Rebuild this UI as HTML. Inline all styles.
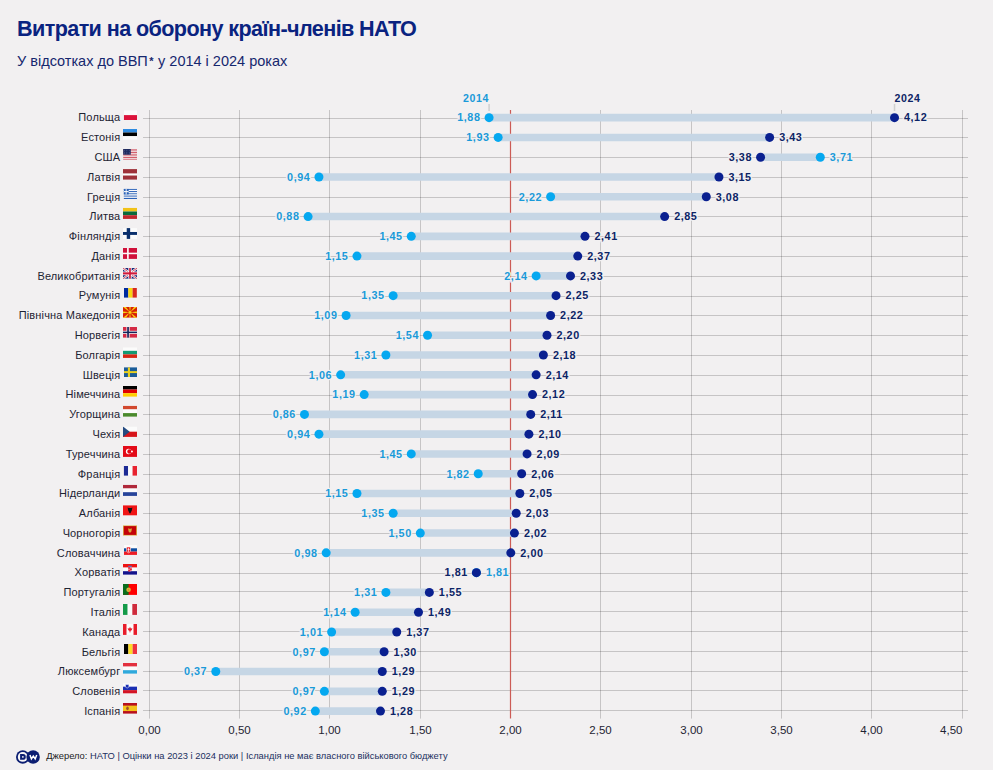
<!DOCTYPE html>
<html><head><meta charset="utf-8"><style>
html,body{margin:0;padding:0;}
body{width:993px;height:770px;overflow:hidden;background:#f2f0f1;position:relative;font-family:"Liberation Sans",sans-serif;}
.t{position:absolute;white-space:nowrap;}
#title{left:17px;top:15px;font-size:21.6px;letter-spacing:-0.6px;font-weight:700;color:#0a2380;line-height:28px;}
#sub{left:17px;top:51px;font-size:14.5px;color:#16276e;line-height:20px;}
#sub b{font-size:11px;position:relative;top:-1.5px;margin:0 0.5px 0 1.5px;}
svg{position:absolute;left:0;top:0;}
svg text{font-family:"Liberation Sans",sans-serif;}
</style></head><body>
<div class="t" id="title">Витрати на оборону країн-членів НАТО</div>
<div class="t" id="sub">У відсотках до ВВП<b>*</b> у 2014 і 2024 роках</div>
<svg width="993" height="770" viewBox="0 0 993 770">

<g stroke="rgba(0,0,0,0.18)" stroke-width="1"><line x1="143" y1="118.50" x2="968" y2="118.50"/><line x1="143" y1="137.50" x2="968" y2="137.50"/><line x1="143" y1="157.50" x2="968" y2="157.50"/><line x1="143" y1="177.50" x2="968" y2="177.50"/><line x1="143" y1="197.50" x2="968" y2="197.50"/><line x1="143" y1="216.50" x2="968" y2="216.50"/><line x1="143" y1="236.50" x2="968" y2="236.50"/><line x1="143" y1="256.50" x2="968" y2="256.50"/><line x1="143" y1="276.50" x2="968" y2="276.50"/><line x1="143" y1="296.50" x2="968" y2="296.50"/><line x1="143" y1="315.50" x2="968" y2="315.50"/><line x1="143" y1="335.50" x2="968" y2="335.50"/><line x1="143" y1="355.50" x2="968" y2="355.50"/><line x1="143" y1="375.50" x2="968" y2="375.50"/><line x1="143" y1="395.50" x2="968" y2="395.50"/><line x1="143" y1="414.50" x2="968" y2="414.50"/><line x1="143" y1="434.50" x2="968" y2="434.50"/><line x1="143" y1="454.50" x2="968" y2="454.50"/><line x1="143" y1="474.50" x2="968" y2="474.50"/><line x1="143" y1="493.50" x2="968" y2="493.50"/><line x1="143" y1="513.50" x2="968" y2="513.50"/><line x1="143" y1="533.50" x2="968" y2="533.50"/><line x1="143" y1="553.50" x2="968" y2="553.50"/><line x1="143" y1="573.50" x2="968" y2="573.50"/><line x1="143" y1="591.50" x2="968" y2="591.50"/><line x1="143" y1="611.50" x2="968" y2="611.50"/><line x1="143" y1="631.50" x2="968" y2="631.50"/><line x1="143" y1="651.50" x2="968" y2="651.50"/><line x1="143" y1="671.50" x2="968" y2="671.50"/><line x1="143" y1="690.50" x2="968" y2="690.50"/><line x1="143" y1="710.50" x2="968" y2="710.50"/></g>
<g stroke="rgba(0,0,0,0.18)" stroke-width="1"><line x1="149.50" y1="110" x2="149.50" y2="718.6"/><line x1="239.50" y1="110" x2="239.50" y2="718.6"/><line x1="329.50" y1="110" x2="329.50" y2="718.6"/><line x1="420.50" y1="110" x2="420.50" y2="718.6"/><line x1="600.50" y1="110" x2="600.50" y2="718.6"/><line x1="691.50" y1="110" x2="691.50" y2="718.6"/><line x1="781.50" y1="110" x2="781.50" y2="718.6"/><line x1="871.50" y1="110" x2="871.50" y2="718.6"/><line x1="962.50" y1="110" x2="962.50" y2="718.6"/></g>
<line x1="510.50" y1="110" x2="510.50" y2="718.6" stroke="#cc5b55" stroke-width="1.2"/>
<g font-size="11.5" fill="#1e2433"><text x="149.50" y="734" text-anchor="middle">0,00</text><text x="239.50" y="734" text-anchor="middle">0,50</text><text x="329.50" y="734" text-anchor="middle">1,00</text><text x="420.50" y="734" text-anchor="middle">1,50</text><text x="510.50" y="734" text-anchor="middle">2,00</text><text x="600.50" y="734" text-anchor="middle">2,50</text><text x="691.50" y="734" text-anchor="middle">3,00</text><text x="781.50" y="734" text-anchor="middle">3,50</text><text x="871.50" y="734" text-anchor="middle">4,00</text><text x="962.50" y="734" text-anchor="end">4,50</text></g>
<g font-size="11" letter-spacing="0.15" fill="#1e2433"><text x="120.3" y="121.45" text-anchor="end">Польща</text><text x="120.3" y="141.23" text-anchor="end">Естонія</text><text x="120.3" y="161.01" text-anchor="end">США</text><text x="120.3" y="180.80" text-anchor="end">Латвія</text><text x="120.3" y="200.58" text-anchor="end">Греція</text><text x="120.3" y="220.36" text-anchor="end">Литва</text><text x="120.3" y="240.14" text-anchor="end">Фінляндія</text><text x="120.3" y="259.92" text-anchor="end">Данія</text><text x="120.3" y="279.71" text-anchor="end">Великобританія</text><text x="120.3" y="299.49" text-anchor="end">Румунія</text><text x="120.3" y="319.27" text-anchor="end">Північна Македонія</text><text x="120.3" y="339.05" text-anchor="end">Норвегія</text><text x="120.3" y="358.83" text-anchor="end">Болгарія</text><text x="120.3" y="378.62" text-anchor="end">Швеція</text><text x="120.3" y="398.40" text-anchor="end">Німеччина</text><text x="120.3" y="418.18" text-anchor="end">Угорщина</text><text x="120.3" y="437.96" text-anchor="end">Чехія</text><text x="120.3" y="457.74" text-anchor="end">Туреччина</text><text x="120.3" y="477.53" text-anchor="end">Франція</text><text x="120.3" y="497.31" text-anchor="end">Нідерланди</text><text x="120.3" y="517.09" text-anchor="end">Албанія</text><text x="120.3" y="536.87" text-anchor="end">Чорногорія</text><text x="120.3" y="556.65" text-anchor="end">Словаччина</text><text x="120.3" y="576.44" text-anchor="end">Хорватія</text><text x="120.3" y="596.22" text-anchor="end">Португалія</text><text x="120.3" y="616.00" text-anchor="end">Італія</text><text x="120.3" y="635.78" text-anchor="end">Канада</text><text x="120.3" y="655.56" text-anchor="end">Бельгія</text><text x="120.3" y="675.35" text-anchor="end">Люксембург</text><text x="120.3" y="695.13" text-anchor="end">Словенія</text><text x="120.3" y="714.91" text-anchor="end">Іспанія</text></g>
<svg x="123.80" y="110.20" width="13.25" height="9.80" overflow="hidden"><g><rect x="0.00" y="0.00" width="13.25" height="4.91" fill="#fbfbfb"/><rect x="0.00" y="4.90" width="13.25" height="4.91" fill="#dc143c"/></g></svg><svg x="123.00" y="128.90" width="14.00" height="10.90" overflow="hidden"><g><rect x="0.00" y="0.00" width="14.00" height="3.64" fill="#2f8be0"/><rect x="0.00" y="3.63" width="14.00" height="3.64" fill="#000000"/><rect x="0.00" y="7.27" width="14.00" height="3.64" fill="#fbfbfb"/></g></svg><svg x="123.10" y="148.90" width="13.90" height="10.80" overflow="hidden"><g><rect x="0.00" y="0.00" width="13.90" height="0.84" fill="#c83848"/><rect x="0.00" y="0.83" width="13.90" height="0.84" fill="#f6e8ea"/><rect x="0.00" y="1.66" width="13.90" height="0.84" fill="#c83848"/><rect x="0.00" y="2.49" width="13.90" height="0.84" fill="#f6e8ea"/><rect x="0.00" y="3.32" width="13.90" height="0.84" fill="#c83848"/><rect x="0.00" y="4.15" width="13.90" height="0.84" fill="#f6e8ea"/><rect x="0.00" y="4.98" width="13.90" height="0.84" fill="#c83848"/><rect x="0.00" y="5.82" width="13.90" height="0.84" fill="#f6e8ea"/><rect x="0.00" y="6.65" width="13.90" height="0.84" fill="#c83848"/><rect x="0.00" y="7.48" width="13.90" height="0.84" fill="#f6e8ea"/><rect x="0.00" y="8.31" width="13.90" height="0.84" fill="#c83848"/><rect x="0.00" y="9.14" width="13.90" height="0.84" fill="#f6e8ea"/><rect x="0.00" y="9.97" width="13.90" height="0.84" fill="#c83848"/><rect x="0.00" y="0.00" width="7.65" height="5.82" fill="#1e2a5e"/><circle cx="1.39" cy="1.30" r="0.35" fill="#8a98c8"/><circle cx="3.75" cy="1.30" r="0.35" fill="#8a98c8"/><circle cx="6.12" cy="1.30" r="0.35" fill="#8a98c8"/><circle cx="1.39" cy="3.24" r="0.35" fill="#8a98c8"/><circle cx="3.75" cy="3.24" r="0.35" fill="#8a98c8"/><circle cx="6.12" cy="3.24" r="0.35" fill="#8a98c8"/><circle cx="1.39" cy="4.97" r="0.35" fill="#8a98c8"/><circle cx="3.75" cy="4.97" r="0.35" fill="#8a98c8"/><circle cx="6.12" cy="4.97" r="0.35" fill="#8a98c8"/></g></svg><svg x="123.00" y="169.10" width="14.00" height="10.70" overflow="hidden"><g><rect x="0.00" y="0.00" width="14.00" height="10.70" fill="#9e3039"/><rect x="0.00" y="4.28" width="14.00" height="2.14" fill="#fbfbfb"/></g></svg><svg x="123.60" y="188.80" width="13.40" height="10.20" overflow="hidden"><g><rect x="0.00" y="0.00" width="13.40" height="1.14" fill="#2a62b8"/><rect x="0.00" y="1.13" width="13.40" height="1.14" fill="#fbfbfb"/><rect x="0.00" y="2.27" width="13.40" height="1.14" fill="#2a62b8"/><rect x="0.00" y="3.40" width="13.40" height="1.14" fill="#fbfbfb"/><rect x="0.00" y="4.53" width="13.40" height="1.14" fill="#2a62b8"/><rect x="0.00" y="5.67" width="13.40" height="1.14" fill="#fbfbfb"/><rect x="0.00" y="6.80" width="13.40" height="1.14" fill="#2a62b8"/><rect x="0.00" y="7.93" width="13.40" height="1.14" fill="#fbfbfb"/><rect x="0.00" y="9.07" width="13.40" height="1.14" fill="#2a62b8"/><rect x="0.00" y="0.00" width="5.09" height="5.67" fill="#2a62b8"/><rect x="2.08" y="0.00" width="0.94" height="5.67" fill="#fbfbfb"/><rect x="0.00" y="2.27" width="5.09" height="1.13" fill="#fbfbfb"/></g></svg><svg x="123.00" y="207.80" width="14.00" height="11.10" overflow="hidden"><g><rect x="0.00" y="0.00" width="14.00" height="3.71" fill="#f2c218"/><rect x="0.00" y="3.70" width="14.00" height="3.71" fill="#0a6a3c"/><rect x="0.00" y="7.40" width="14.00" height="3.71" fill="#c1272d"/></g></svg><svg x="122.90" y="228.10" width="14.20" height="10.80" overflow="hidden"><g><rect x="0.00" y="0.00" width="14.20" height="10.80" fill="#fbfbfb"/><rect x="3.83" y="0.00" width="3.41" height="10.80" fill="#0a2f6c"/><rect x="0.00" y="3.89" width="14.20" height="2.92" fill="#0a2f6c"/></g></svg><svg x="123.00" y="248.00" width="14.00" height="10.90" overflow="hidden"><g><rect x="0.00" y="0.00" width="14.00" height="10.90" fill="#d0103a"/><rect x="4.06" y="0.00" width="1.68" height="10.90" fill="#fbfbfb"/><rect x="0.00" y="4.69" width="14.00" height="1.53" fill="#fbfbfb"/></g></svg><svg x="123.00" y="268.00" width="14.00" height="10.80" overflow="hidden"><g><rect x="0.00" y="0.00" width="14.00" height="10.80" fill="#1a2a78"/><path d="M0,0L14,10.800000000000011M14,0L0,10.800000000000011" stroke="#fbfbfb" stroke-width="2.2"/><path d="M0,0L14,10.800000000000011M14,0L0,10.800000000000011" stroke="#c8102e" stroke-width="0.8"/><rect x="5.32" y="0.00" width="3.36" height="10.80" fill="#fbfbfb"/><rect x="0.00" y="3.56" width="14.00" height="3.67" fill="#fbfbfb"/><rect x="6.16" y="0.00" width="1.68" height="10.80" fill="#d0183a"/><rect x="0.00" y="4.32" width="14.00" height="2.16" fill="#d0183a"/></g></svg><svg x="124.00" y="288.00" width="12.90" height="9.80" overflow="hidden"><g><rect x="0.00" y="0.00" width="4.31" height="9.80" fill="#002b9f"/><rect x="4.30" y="0.00" width="4.31" height="9.80" fill="#f8d510"/><rect x="8.60" y="0.00" width="4.31" height="9.80" fill="#d8281e"/></g></svg><svg x="123.00" y="306.90" width="14.00" height="10.90" overflow="hidden"><g><rect x="0.00" y="0.00" width="14.00" height="10.90" fill="#d81e05"/><path d="M7.00,5.45L20.88,3.64L20.88,7.26Z" fill="#f8d210"/><path d="M7.00,5.45L18.10,13.98L15.53,16.55Z" fill="#f8d210"/><path d="M7.00,5.45L8.81,19.33L5.19,19.33Z" fill="#f8d210"/><path d="M7.00,5.45L-1.53,16.55L-4.10,13.98Z" fill="#f8d210"/><path d="M7.00,5.45L-6.88,7.26L-6.88,3.64Z" fill="#f8d210"/><path d="M7.00,5.45L-4.10,-3.08L-1.53,-5.65Z" fill="#f8d210"/><path d="M7.00,5.45L5.19,-8.43L8.81,-8.43Z" fill="#f8d210"/><path d="M7.00,5.45L15.53,-5.65L18.10,-3.08Z" fill="#f8d210"/><circle cx="7.00" cy="5.45" r="1.85" fill="#f8d210" stroke="#d81e05" stroke-width="0.5"/></g></svg><svg x="123.00" y="326.90" width="14.00" height="10.90" overflow="hidden"><g><rect x="0.00" y="0.00" width="14.00" height="10.90" fill="#d42a45"/><rect x="3.50" y="0.00" width="3.08" height="10.90" fill="#fbfbfb"/><rect x="0.00" y="3.92" width="14.00" height="3.05" fill="#fbfbfb"/><rect x="4.20" y="0.00" width="1.68" height="10.90" fill="#14245a"/><rect x="0.00" y="4.69" width="14.00" height="1.53" fill="#14245a"/></g></svg><svg x="123.00" y="347.30" width="14.00" height="10.60" overflow="hidden"><g><rect x="0.00" y="0.00" width="14.00" height="3.54" fill="#fbfbfb"/><rect x="0.00" y="3.53" width="14.00" height="3.54" fill="#139a72"/><rect x="0.00" y="7.07" width="14.00" height="3.54" fill="#d62612"/></g></svg><svg x="124.00" y="367.20" width="13.00" height="9.80" overflow="hidden"><g><rect x="0.00" y="0.00" width="13.00" height="9.80" fill="#1a5c98"/><rect x="3.90" y="0.00" width="2.08" height="9.80" fill="#e8d020"/><rect x="0.00" y="3.92" width="13.00" height="1.96" fill="#e8d020"/></g></svg><svg x="123.00" y="385.90" width="14.00" height="10.90" overflow="hidden"><g><rect x="0.00" y="0.00" width="14.00" height="3.64" fill="#000000"/><rect x="0.00" y="3.63" width="14.00" height="3.64" fill="#e00000"/><rect x="0.00" y="7.27" width="14.00" height="3.64" fill="#ffce00"/></g></svg><svg x="123.00" y="405.70" width="14.00" height="11.10" overflow="hidden"><g><rect x="0.00" y="0.00" width="14.00" height="3.71" fill="#d2482e"/><rect x="0.00" y="3.70" width="14.00" height="3.71" fill="#fbfbfb"/><rect x="0.00" y="7.40" width="14.00" height="3.71" fill="#4a8a2c"/></g></svg><svg x="123.00" y="426.50" width="14.00" height="10.40" overflow="hidden"><g><rect x="0.00" y="0.00" width="14.00" height="5.20" fill="#fbfbfb"/><rect x="0.00" y="5.20" width="14.00" height="5.20" fill="#d7141a"/><path d="M0,0L6.72,5.20L0,10.399999999999977Z" fill="#254a80"/></g></svg><svg x="123.00" y="446.00" width="14.00" height="10.90" overflow="hidden"><g><rect x="0.00" y="0.00" width="14.00" height="10.90" fill="#e30a17"/><circle cx="5.60" cy="5.45" r="2.72" fill="#fff"/><circle cx="6.44" cy="5.45" r="2.18" fill="#e30a17"/><circle cx="8.96" cy="5.45" r="0.98" fill="#fff"/></g></svg><svg x="123.70" y="466.00" width="13.30" height="9.80" overflow="hidden"><g><rect x="0.00" y="0.00" width="4.44" height="9.80" fill="#1c2a94"/><rect x="4.43" y="0.00" width="4.44" height="9.80" fill="#fbfbfb"/><rect x="8.87" y="0.00" width="4.44" height="9.80" fill="#e8232f"/></g></svg><svg x="123.00" y="484.80" width="14.00" height="11.10" overflow="hidden"><g><rect x="0.00" y="0.00" width="14.00" height="3.71" fill="#b0283a"/><rect x="0.00" y="3.70" width="14.00" height="3.71" fill="#fbfbfb"/><rect x="0.00" y="7.40" width="14.00" height="3.71" fill="#27449a"/></g></svg><svg x="123.00" y="505.20" width="14.00" height="10.40" overflow="hidden"><g><rect x="0.00" y="0.00" width="14.00" height="10.40" fill="#f01414"/><path d="M4.62,2.29Q7.00,3.33 9.38,2.29L8.68,5.72Q7.70,6.45 7.70,8.11L6.30,8.11Q6.30,6.45 5.32,5.72Z" fill="#111"/></g></svg><svg x="123.00" y="525.30" width="14.00" height="10.40" overflow="hidden"><g><rect x="0.00" y="0.00" width="14.00" height="10.40" fill="#d7a93c"/><rect x="0.84" y="0.83" width="12.32" height="8.74" fill="#c40308"/><path d="M5.04,2.91Q7.00,4.16 8.96,2.91L8.40,6.24Q7.00,8.53 5.60,6.24Z" fill="#d7a93c"/></g></svg><svg x="124.00" y="545.00" width="13.00" height="9.90" overflow="hidden"><g><rect x="0.00" y="0.00" width="13.00" height="3.31" fill="#fbfbfb"/><rect x="0.00" y="3.30" width="13.00" height="3.31" fill="#0b4ea2"/><rect x="0.00" y="6.60" width="13.00" height="3.31" fill="#ee1c25"/><path d="M2.60,1.98H6.50V6.14Q4.55,9.40 2.60,6.14Z" fill="#ee1c25" stroke="#fbfbfb" stroke-width="0.6"/><rect x="4.29" y="2.97" width="0.65" height="3.96" fill="#fff"/><rect x="3.51" y="3.96" width="2.21" height="0.69" fill="#fff"/></g></svg><svg x="123.00" y="564.00" width="14.00" height="10.80" overflow="hidden"><g><rect x="0.00" y="0.00" width="14.00" height="3.61" fill="#ee1111"/><rect x="0.00" y="3.60" width="14.00" height="3.61" fill="#fbfbfb"/><rect x="0.00" y="7.20" width="14.00" height="3.61" fill="#13138c"/><rect x="5.18" y="1.73" width="3.64" height="1.30" fill="#5a70c0"/><path d="M5.18,3.02H8.82V6.48Q7.00,8.64 5.18,6.48Z" fill="#f07888"/><rect x="5.18" y="3.24" width="1.82" height="1.40" fill="#e02838"/><rect x="7.00" y="4.64" width="1.82" height="1.40" fill="#e02838"/><rect x="5.18" y="6.05" width="1.82" height="1.40" fill="#e02838"/></g></svg><svg x="123.00" y="584.00" width="14.00" height="10.90" overflow="hidden"><g><rect x="0.00" y="0.00" width="14.00" height="10.90" fill="#ff0000"/><rect x="0.00" y="0.00" width="5.60" height="10.90" fill="#0a6e1c"/><circle cx="5.60" cy="5.67" r="2.29" fill="#d9b43a"/><rect x="5.18" y="5.12" width="0.84" height="1.31" fill="#d87040"/></g></svg><svg x="123.00" y="604.00" width="14.00" height="10.90" overflow="hidden"><g><rect x="0.00" y="0.00" width="4.68" height="10.90" fill="#149a48"/><rect x="4.67" y="0.00" width="4.68" height="10.90" fill="#fbfbfb"/><rect x="9.33" y="0.00" width="4.68" height="10.90" fill="#cf2b3c"/></g></svg><svg x="123.00" y="624.00" width="14.00" height="10.90" overflow="hidden"><g><rect x="0.00" y="0.00" width="14.00" height="10.90" fill="#fbfbfb"/><rect x="0.00" y="0.00" width="3.50" height="10.90" fill="#e81c2a"/><rect x="10.50" y="0.00" width="3.50" height="10.90" fill="#e81c2a"/><path d="M7.00,2.72 L7.84,4.58 L9.38,4.14 L8.68,6.32 L7.56,6.76 L7.28,8.50 L6.72,8.50 L6.44,6.76 L5.32,6.32 L4.62,4.14 L6.16,4.58 Z" fill="#e81c2a"/></g></svg><svg x="124.00" y="644.00" width="13.00" height="10.10" overflow="hidden"><g><rect x="0.00" y="0.00" width="4.34" height="10.10" fill="#000000"/><rect x="4.33" y="0.00" width="4.34" height="10.10" fill="#fdda24"/><rect x="8.67" y="0.00" width="4.34" height="10.10" fill="#ef3340"/></g></svg><svg x="123.00" y="663.00" width="14.00" height="10.80" overflow="hidden"><g><rect x="0.00" y="0.00" width="14.00" height="3.61" fill="#e3313f"/><rect x="0.00" y="3.60" width="14.00" height="3.61" fill="#fbfbfb"/><rect x="0.00" y="7.20" width="14.00" height="3.61" fill="#2fa9dc"/></g></svg><svg x="123.00" y="683.20" width="14.00" height="10.40" overflow="hidden"><g><rect x="0.00" y="0.00" width="14.00" height="3.48" fill="#fbfbfb"/><rect x="0.00" y="3.47" width="14.00" height="3.48" fill="#1b2fb3"/><rect x="0.00" y="6.93" width="14.00" height="3.48" fill="#d41424"/><path d="M2.52,1.25H5.88V3.95Q4.20,5.82 2.52,3.95Z" fill="#1b2fb3" stroke="#fff" stroke-width="0.5"/></g></svg><svg x="123.00" y="702.90" width="14.00" height="10.90" overflow="hidden"><g><rect x="0.00" y="0.00" width="14.00" height="10.90" fill="#b8101e"/><rect x="0.00" y="2.72" width="14.00" height="5.45" fill="#f4c21a"/><ellipse cx="4.48" cy="5.45" rx="1.26" ry="1.85" fill="#a0502a"/></g></svg>
<g stroke="#c6d6e5" stroke-width="7.6"><line x1="489.08" y1="117.65" x2="894.52" y2="117.65"/><line x1="498.13" y1="137.43" x2="769.63" y2="137.43"/><line x1="760.58" y1="157.21" x2="820.31" y2="157.21"/><line x1="318.94" y1="177.00" x2="718.95" y2="177.00"/><line x1="550.62" y1="196.78" x2="706.28" y2="196.78"/><line x1="308.08" y1="216.56" x2="664.65" y2="216.56"/><line x1="411.25" y1="236.34" x2="585.01" y2="236.34"/><line x1="356.95" y1="256.12" x2="577.77" y2="256.12"/><line x1="536.14" y1="275.91" x2="570.53" y2="275.91"/><line x1="393.15" y1="295.69" x2="556.05" y2="295.69"/><line x1="346.09" y1="315.47" x2="550.62" y2="315.47"/><line x1="427.54" y1="335.25" x2="547.00" y2="335.25"/><line x1="385.91" y1="355.03" x2="543.38" y2="355.03"/><line x1="340.66" y1="374.82" x2="536.14" y2="374.82"/><line x1="364.19" y1="394.60" x2="532.52" y2="394.60"/><line x1="304.46" y1="414.38" x2="530.71" y2="414.38"/><line x1="318.94" y1="434.16" x2="528.90" y2="434.16"/><line x1="411.25" y1="453.94" x2="527.09" y2="453.94"/><line x1="478.22" y1="473.73" x2="521.66" y2="473.73"/><line x1="356.95" y1="493.51" x2="519.85" y2="493.51"/><line x1="393.15" y1="513.29" x2="516.23" y2="513.29"/><line x1="420.30" y1="533.07" x2="514.42" y2="533.07"/><line x1="326.18" y1="552.85" x2="510.80" y2="552.85"/><line x1="385.91" y1="592.42" x2="429.35" y2="592.42"/><line x1="355.14" y1="612.20" x2="418.49" y2="612.20"/><line x1="331.61" y1="631.98" x2="396.77" y2="631.98"/><line x1="324.37" y1="651.76" x2="384.10" y2="651.76"/><line x1="215.77" y1="671.55" x2="382.29" y2="671.55"/><line x1="324.37" y1="691.33" x2="382.29" y2="691.33"/><line x1="315.32" y1="711.11" x2="380.48" y2="711.11"/></g>
<circle cx="489.08" cy="117.65" r="4.5" fill="#05a8f0"/><circle cx="894.52" cy="117.65" r="4.5" fill="#0a2090"/><circle cx="498.13" cy="137.43" r="4.5" fill="#05a8f0"/><circle cx="769.63" cy="137.43" r="4.5" fill="#0a2090"/><circle cx="820.31" cy="157.21" r="4.5" fill="#05a8f0"/><circle cx="760.58" cy="157.21" r="4.5" fill="#0a2090"/><circle cx="318.94" cy="177.00" r="4.5" fill="#05a8f0"/><circle cx="718.95" cy="177.00" r="4.5" fill="#0a2090"/><circle cx="550.62" cy="196.78" r="4.5" fill="#05a8f0"/><circle cx="706.28" cy="196.78" r="4.5" fill="#0a2090"/><circle cx="308.08" cy="216.56" r="4.5" fill="#05a8f0"/><circle cx="664.65" cy="216.56" r="4.5" fill="#0a2090"/><circle cx="411.25" cy="236.34" r="4.5" fill="#05a8f0"/><circle cx="585.01" cy="236.34" r="4.5" fill="#0a2090"/><circle cx="356.95" cy="256.12" r="4.5" fill="#05a8f0"/><circle cx="577.77" cy="256.12" r="4.5" fill="#0a2090"/><circle cx="536.14" cy="275.91" r="4.5" fill="#05a8f0"/><circle cx="570.53" cy="275.91" r="4.5" fill="#0a2090"/><circle cx="393.15" cy="295.69" r="4.5" fill="#05a8f0"/><circle cx="556.05" cy="295.69" r="4.5" fill="#0a2090"/><circle cx="346.09" cy="315.47" r="4.5" fill="#05a8f0"/><circle cx="550.62" cy="315.47" r="4.5" fill="#0a2090"/><circle cx="427.54" cy="335.25" r="4.5" fill="#05a8f0"/><circle cx="547.00" cy="335.25" r="4.5" fill="#0a2090"/><circle cx="385.91" cy="355.03" r="4.5" fill="#05a8f0"/><circle cx="543.38" cy="355.03" r="4.5" fill="#0a2090"/><circle cx="340.66" cy="374.82" r="4.5" fill="#05a8f0"/><circle cx="536.14" cy="374.82" r="4.5" fill="#0a2090"/><circle cx="364.19" cy="394.60" r="4.5" fill="#05a8f0"/><circle cx="532.52" cy="394.60" r="4.5" fill="#0a2090"/><circle cx="304.46" cy="414.38" r="4.5" fill="#05a8f0"/><circle cx="530.71" cy="414.38" r="4.5" fill="#0a2090"/><circle cx="318.94" cy="434.16" r="4.5" fill="#05a8f0"/><circle cx="528.90" cy="434.16" r="4.5" fill="#0a2090"/><circle cx="411.25" cy="453.94" r="4.5" fill="#05a8f0"/><circle cx="527.09" cy="453.94" r="4.5" fill="#0a2090"/><circle cx="478.22" cy="473.73" r="4.5" fill="#05a8f0"/><circle cx="521.66" cy="473.73" r="4.5" fill="#0a2090"/><circle cx="356.95" cy="493.51" r="4.5" fill="#05a8f0"/><circle cx="519.85" cy="493.51" r="4.5" fill="#0a2090"/><circle cx="393.15" cy="513.29" r="4.5" fill="#05a8f0"/><circle cx="516.23" cy="513.29" r="4.5" fill="#0a2090"/><circle cx="420.30" cy="533.07" r="4.5" fill="#05a8f0"/><circle cx="514.42" cy="533.07" r="4.5" fill="#0a2090"/><circle cx="326.18" cy="552.85" r="4.5" fill="#05a8f0"/><circle cx="510.80" cy="552.85" r="4.5" fill="#0a2090"/><circle cx="476.41" cy="572.64" r="4.5" fill="#05a8f0"/><circle cx="476.41" cy="572.64" r="4.5" fill="#0a2090"/><circle cx="385.91" cy="592.42" r="4.5" fill="#05a8f0"/><circle cx="429.35" cy="592.42" r="4.5" fill="#0a2090"/><circle cx="355.14" cy="612.20" r="4.5" fill="#05a8f0"/><circle cx="418.49" cy="612.20" r="4.5" fill="#0a2090"/><circle cx="331.61" cy="631.98" r="4.5" fill="#05a8f0"/><circle cx="396.77" cy="631.98" r="4.5" fill="#0a2090"/><circle cx="324.37" cy="651.76" r="4.5" fill="#05a8f0"/><circle cx="384.10" cy="651.76" r="4.5" fill="#0a2090"/><circle cx="215.77" cy="671.55" r="4.5" fill="#05a8f0"/><circle cx="382.29" cy="671.55" r="4.5" fill="#0a2090"/><circle cx="324.37" cy="691.33" r="4.5" fill="#05a8f0"/><circle cx="382.29" cy="691.33" r="4.5" fill="#0a2090"/><circle cx="315.32" cy="711.11" r="4.5" fill="#05a8f0"/><circle cx="380.48" cy="711.11" r="4.5" fill="#0a2090"/>
<g font-size="10.8" letter-spacing="0.55" font-weight="700" stroke="#f2f0f1" stroke-width="2.6" stroke-linejoin="round" paint-order="stroke"><text x="480.48" y="121.45" text-anchor="end" fill="#1a9ad9">1,88</text><text x="904.02" y="121.45" fill="#0c2466">4,12</text><text x="489.53" y="141.23" text-anchor="end" fill="#1a9ad9">1,93</text><text x="779.13" y="141.23" fill="#0c2466">3,43</text><text x="751.98" y="161.01" text-anchor="end" fill="#0c2466">3,38</text><text x="829.81" y="161.01" fill="#1a9ad9">3,71</text><text x="310.34" y="180.80" text-anchor="end" fill="#1a9ad9">0,94</text><text x="728.45" y="180.80" fill="#0c2466">3,15</text><text x="542.02" y="200.58" text-anchor="end" fill="#1a9ad9">2,22</text><text x="715.78" y="200.58" fill="#0c2466">3,08</text><text x="299.48" y="220.36" text-anchor="end" fill="#1a9ad9">0,88</text><text x="674.15" y="220.36" fill="#0c2466">2,85</text><text x="402.65" y="240.14" text-anchor="end" fill="#1a9ad9">1,45</text><text x="594.51" y="240.14" fill="#0c2466">2,41</text><text x="348.35" y="259.92" text-anchor="end" fill="#1a9ad9">1,15</text><text x="587.27" y="259.92" fill="#0c2466">2,37</text><text x="527.54" y="279.71" text-anchor="end" fill="#1a9ad9">2,14</text><text x="580.03" y="279.71" fill="#0c2466">2,33</text><text x="384.55" y="299.49" text-anchor="end" fill="#1a9ad9">1,35</text><text x="565.55" y="299.49" fill="#0c2466">2,25</text><text x="337.49" y="319.27" text-anchor="end" fill="#1a9ad9">1,09</text><text x="560.12" y="319.27" fill="#0c2466">2,22</text><text x="418.94" y="339.05" text-anchor="end" fill="#1a9ad9">1,54</text><text x="556.50" y="339.05" fill="#0c2466">2,20</text><text x="377.31" y="358.83" text-anchor="end" fill="#1a9ad9">1,31</text><text x="552.88" y="358.83" fill="#0c2466">2,18</text><text x="332.06" y="378.62" text-anchor="end" fill="#1a9ad9">1,06</text><text x="545.64" y="378.62" fill="#0c2466">2,14</text><text x="355.59" y="398.40" text-anchor="end" fill="#1a9ad9">1,19</text><text x="542.02" y="398.40" fill="#0c2466">2,12</text><text x="295.86" y="418.18" text-anchor="end" fill="#1a9ad9">0,86</text><text x="540.21" y="418.18" fill="#0c2466">2,11</text><text x="310.34" y="437.96" text-anchor="end" fill="#1a9ad9">0,94</text><text x="538.40" y="437.96" fill="#0c2466">2,10</text><text x="402.65" y="457.74" text-anchor="end" fill="#1a9ad9">1,45</text><text x="536.59" y="457.74" fill="#0c2466">2,09</text><text x="469.62" y="477.53" text-anchor="end" fill="#1a9ad9">1,82</text><text x="531.16" y="477.53" fill="#0c2466">2,06</text><text x="348.35" y="497.31" text-anchor="end" fill="#1a9ad9">1,15</text><text x="529.35" y="497.31" fill="#0c2466">2,05</text><text x="384.55" y="517.09" text-anchor="end" fill="#1a9ad9">1,35</text><text x="525.73" y="517.09" fill="#0c2466">2,03</text><text x="411.70" y="536.87" text-anchor="end" fill="#1a9ad9">1,50</text><text x="523.92" y="536.87" fill="#0c2466">2,02</text><text x="317.58" y="556.65" text-anchor="end" fill="#1a9ad9">0,98</text><text x="520.30" y="556.65" fill="#0c2466">2,00</text><text x="467.81" y="576.44" text-anchor="end" fill="#0c2466">1,81</text><text x="485.91" y="576.44" fill="#1a9ad9">1,81</text><text x="377.31" y="596.22" text-anchor="end" fill="#1a9ad9">1,31</text><text x="438.85" y="596.22" fill="#0c2466">1,55</text><text x="346.54" y="616.00" text-anchor="end" fill="#1a9ad9">1,14</text><text x="427.99" y="616.00" fill="#0c2466">1,49</text><text x="323.01" y="635.78" text-anchor="end" fill="#1a9ad9">1,01</text><text x="406.27" y="635.78" fill="#0c2466">1,37</text><text x="315.77" y="655.56" text-anchor="end" fill="#1a9ad9">0,97</text><text x="393.60" y="655.56" fill="#0c2466">1,30</text><text x="207.17" y="675.35" text-anchor="end" fill="#1a9ad9">0,37</text><text x="391.79" y="675.35" fill="#0c2466">1,29</text><text x="315.77" y="695.13" text-anchor="end" fill="#1a9ad9">0,97</text><text x="391.79" y="695.13" fill="#0c2466">1,29</text><text x="306.72" y="714.91" text-anchor="end" fill="#1a9ad9">0,92</text><text x="389.98" y="714.91" fill="#0c2466">1,28</text></g>
<line x1="489.08" y1="104" x2="489.08" y2="111" stroke="#cfcfcf" stroke-width="1.5"/>
<line x1="894.52" y1="104" x2="894.52" y2="111" stroke="#cfcfcf" stroke-width="1.5"/>
<text x="489.08" y="102" text-anchor="end" font-size="10.6" letter-spacing="0.6" font-weight="700" fill="#1a9ad9">2014</text>
<text x="894.52" y="102" font-size="10.6" letter-spacing="0.6" font-weight="700" fill="#0c2466">2024</text>
<g>
<circle cx="22.75" cy="756.9" r="6.75" fill="#0c1e72"/>
<circle cx="22.75" cy="756.9" r="4.95" fill="#f7f6f8"/>
<path d="M20.1,754.1 H23.1 A2.7,2.8 0 0 1 23.1,759.7 H20.1 Z" fill="#0c1e72"/>
<rect x="22.1" y="756.1" width="1.5" height="1.6" fill="#f7f6f8"/>
<circle cx="33.1" cy="756.9" r="6.75" fill="#0c1e72"/>
<path d="M30.0,755.0 L31.4,758.9 L33.3,756.0 L35.2,758.9 L36.7,755.0" fill="none" stroke="#fff" stroke-width="1.5" stroke-linejoin="miter"/>
</g>
<text x="46.2" y="759.2" font-size="9.35" fill="#1c1c24">Джерело: <tspan fill="#1b2f60">НАТО | Оцінки на 2023 і 2024 роки | Ісландія не має власного військового бюджету</tspan></text>
</svg></body></html>
